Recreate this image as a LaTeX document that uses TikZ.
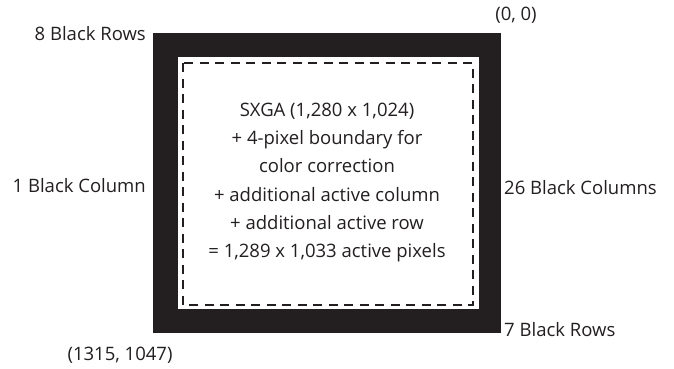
\documentclass[tikz,border=0pt]{standalone}
\usepackage{fontspec}
\setmainfont{Open Sans}
\definecolor{frameblack}{HTML}{231F20}
\tikzset{
  lbl/.style={font=\fontsize{18.5}{22}\selectfont, text=frameblack, inner sep=0pt},
  centertext/.style={font=\fontsize{18.5}{28.2}\selectfont, text=frameblack, align=center, inner sep=0pt},
  dashbox/.style={draw=frameblack, line width=1.4pt, dash pattern=on 9pt off 6.5pt}
}
\begin{document}
\begin{tikzpicture}[x=1pt,y=-1pt]
\useasboundingbox (0,0) rectangle (674,368);
% frame
\fill[frameblack] (153,33) rectangle (501,333);
\fill[white] (178,57) rectangle (479,309);
\draw[dashbox] (183,63) rectangle (473,305);
% centre text
\node[centertext] (main) at (327,182.5) {SXGA (1,280 x 1,024)\\+ 4-pixel boundary for\\color correction\\+ additional active column\\+ additional active row\\= 1,289 x 1,033 active pixels};
% labels
\node[lbl, anchor=east] (toprows) at (146,34) {8 Black Rows};
\node[lbl] (origin) at (516,15) {(0, 0)};
\node[lbl, anchor=east] (leftcol) at (146,186) {1 Black Column};
\node[lbl, anchor=west] (rightcols) at (504,188) {26 Black Columns};
\node[lbl, anchor=west] (botrows) at (504,330) {7 Black Rows};
\node[lbl] (corner) at (120,355) {(1315, 1047)};
\end{tikzpicture}
\end{document}
